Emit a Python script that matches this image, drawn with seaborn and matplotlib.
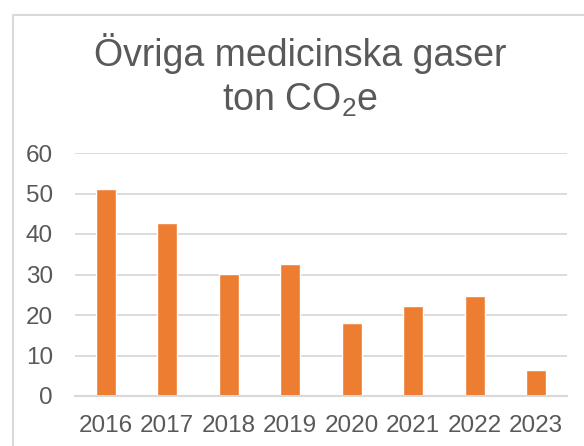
import matplotlib
matplotlib.use("Agg")
import matplotlib.pyplot as plt
import pandas as pd
import seaborn as sns
from matplotlib.lines import Line2D

years = ["2016", "2017", "2018", "2019", "2020", "2021", "2022", "2023"]
values = [51.1, 42.7, 30.1, 32.6, 18.0, 22.2, 24.7, 6.4]

BAR = "#ED7D31"
TEXT = "#595959"
GRID = "#D9D9D9"


def main():
    sns.set_theme(style="white")
    plt.rcParams["font.family"] = ["Liberation Sans", "DejaVu Sans"]
    plt.rcParams["mathtext.fontset"] = "custom"
    plt.rcParams["mathtext.rm"] = "Liberation Sans"
    plt.rcParams["mathtext.it"] = "Liberation Sans:italic"

    df = pd.DataFrame({"year": years, "value": values})

    fig = plt.figure(figsize=(5.84, 4.46), dpi=100)
    ax = fig.add_axes([75 / 584, 1 - 396 / 446, 492 / 584, 243 / 446])

    sns.barplot(data=df, x="year", y="value", color=BAR, width=0.325,
                saturation=1, ax=ax)

    ax.set_ylim(0, 60)
    ax.set_yticks(range(0, 61, 10))
    ax.set_xlim(-0.5, len(years) - 0.5)
    ax.set_xlabel("")
    ax.set_ylabel("")
    ax.yaxis.grid(True, color=GRID, linewidth=1.3)
    ax.set_axisbelow(True)
    for side in ["top", "right", "left"]:
        ax.spines[side].set_visible(False)
    ax.spines["bottom"].set_color(GRID)
    ax.spines["bottom"].set_linewidth(1.5)
    ax.tick_params(axis="y", length=0, pad=16, labelsize=17.5, labelcolor=TEXT)
    ax.tick_params(axis="x", length=0, pad=14, labelsize=17.5, labelcolor=TEXT)

    cx = 300 / 584
    fig.text(cx, 1 - 66 / 446, "Övriga medicinska gaser",
             ha="center", va="baseline", fontsize=27, color=TEXT)
    fig.text(cx, 1 - 111 / 446, "ton CO$_2$e",
             ha="center", va="baseline", fontsize=27, color=TEXT)

    # chart frame, partly cut off in the original
    fig.add_artist(Line2D([13 / 584, 13 / 584, 1.0], [0.0, 1 - 15 / 446, 1 - 15 / 446],
                          transform=fig.transFigure, color=GRID, linewidth=1.5))

    fig.savefig("out.png", dpi=100)
    plt.close(fig)


if __name__ == '__main__':
    main()
